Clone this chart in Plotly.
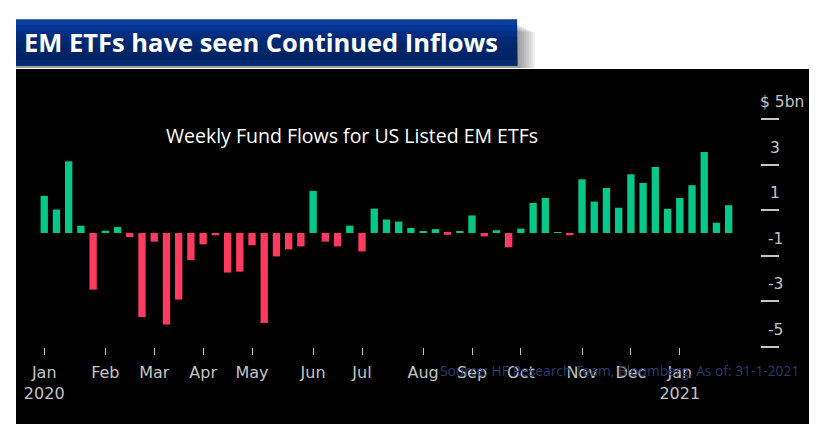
import plotly.graph_objects as go
import pandas as pd


def plotly_em_etf_flows(flows):
    colors = [
    '#06c88a',  # inflow green
    '#ff3a5f',  # outflow red
    '#c4c4c4',  # axis gray
    '#2b3a6b',  # source navy
    ]
    band_colors = ['#0a3f9e', '#053593', '#032e82', '#022a74', '#02276b', '#022567', '#022464', '#032a70']

    weeks = pd.date_range("2020-01-03", periods=len(flows), freq="7D")
    month_ticks = ["2020-01-03", "2020-02-07", "2020-03-06", "2020-04-03", "2020-05-01", "2020-06-05", "2020-07-03",
                   "2020-08-07", "2020-09-04", "2020-10-02", "2020-11-06", "2020-12-04", "2021-01-01"]
    month_labels = ["Jan<br>2020", "Feb", "Mar", "Apr", "May", "Jun", "Jul", "Aug", "Sep", "Oct", "Nov", "Dec", "Jan<br>2021"]
    y_ticks = [5, 3, 1, -1, -3, -5]

    fig = go.Figure()
    fig.add_trace(go.Bar(x=weeks, y=flows, marker_color=[colors[0] if v >= 0 else colors[1] for v in flows], marker_line_width=0, showlegend=False))

    # the page has a margin of 8 px, so the figure is that much smaller
    fig.update_layout(
        width=830, height=434,
        margin=dict(l=7.7, r=29, t=61, b=18),
        paper_bgcolor="white",
        plot_bgcolor="black",
        bargap=0.4,
        font=dict(family="DejaVu Sans", color=colors[2]),
    )
    fig.update_xaxes(
        range=["2019-12-17 20:00", "2021-03-16"],
        anchor="free", position=0.217,
        tickmode="array", tickvals=month_ticks, ticktext=month_labels,
        ticks="outside", ticklen=7, tickwidth=1, tickcolor=colors[2],
        tickfont=dict(size=16, color=colors[2]),
        ticklabelstandoff=4,
        showgrid=False, zeroline=False, showline=False,
    )
    fig.update_yaxes(
        range=[-8.4, 7.21],
        anchor="free", position=0.962, side="right",
        tickmode="array", tickvals=y_ticks, ticks="inside", ticklen=18, tickwidth=1.5, tickcolor=colors[2],
        showticklabels=False,
        showgrid=False, zeroline=False, showline=False,
    )

    # the labels sit above their tick lines
    for v in y_ticks:
        fig.add_annotation(x=((782 if v == 5 else 775) - 15.7) / 793.3, xref="paper", xanchor="center", y=v, yref="y", yanchor="middle", yshift=17, showarrow=False,
                           text="$ 5bn" if v == 5 else str(v), font=dict(size=15.5, color=colors[2]))

    # header band with its shadow
    for i in range(8):
        fig.add_shape(type="rect", xref="paper", yref="paper", layer="below",
                      x0=0, x1=(517 + 18 - i * 2.2 - 15.7) / 793.3, y0=(424 - 69 + 1) / 355, y1=(424 - 32 + i) / 355,
                      fillcolor="rgba(60,60,70,0.08)", line_width=0)
    strip = (65.7 - 19.3) / len(band_colors)
    for i, band_color in enumerate(band_colors):
        # every strip runs down to the bottom of the band, the next one paints over it
        fig.add_shape(type="rect", xref="paper", yref="paper", x0=0, x1=(517 - 15.7) / 793.3,
                      y0=(424 - 65.7) / 355, y1=(424 - 19.3 - strip * i) / 355,
                      fillcolor=band_color, line_width=0)
    fig.add_annotation(x=(22 - 15.7) / 793.3, xref="paper", xanchor="left", y=(424 - 42) / 355, yref="paper", yanchor="middle", showarrow=False,
                       text="<b>EM ETFs have seen Continued Inflows</b>", font=dict(family="Open Sans", size=25.5, color="white"))

    fig.add_annotation(x=(351.5 - 15.7) / 793.3, xref="paper", xanchor="center", y=(424 - 136) / 355, yref="paper", yanchor="middle", showarrow=False,
                       text="Weekly Fund Flows for US Listed EM ETFs", font=dict(family="Open Sans", size=19.5, color="white"))
    fig.add_annotation(x=(801 - 15.7) / 793.3, xref="paper", xanchor="right", y=(424 - 370) / 355, yref="paper", yanchor="middle", showarrow=False,
                       text="Source: HF Research Team, Bloomberg, As of: 31-1-2021", font=dict(family="Open Sans", size=13.8, color=colors[3]))

    fig.write_html("out.html")


flows = [1.63, 1.03, 3.15, 0.32, -2.49, 0.1, 0.26, -0.18, -3.7, -0.38, -4.02, -2.93, -1.19, -0.5, -0.1,
         -1.74, -1.7, -0.54, -3.96, -1.03, -0.72, -0.59, 1.85, -0.38, -0.59, 0.32, -0.81, 1.07, 0.59, 0.5,
         0.22, 0.06, 0.17, -0.08, 0.05, 0.77, -0.15, 0.12, -0.63, 0.19, 1.32, 1.54, 0.03, -0.1, 2.36, 1.38,
         1.98, 1.11, 2.58, 2.2, 2.9, 1.06, 1.54, 2.1, 3.56, 0.45, 1.22]

plotly_em_etf_flows(flows)
